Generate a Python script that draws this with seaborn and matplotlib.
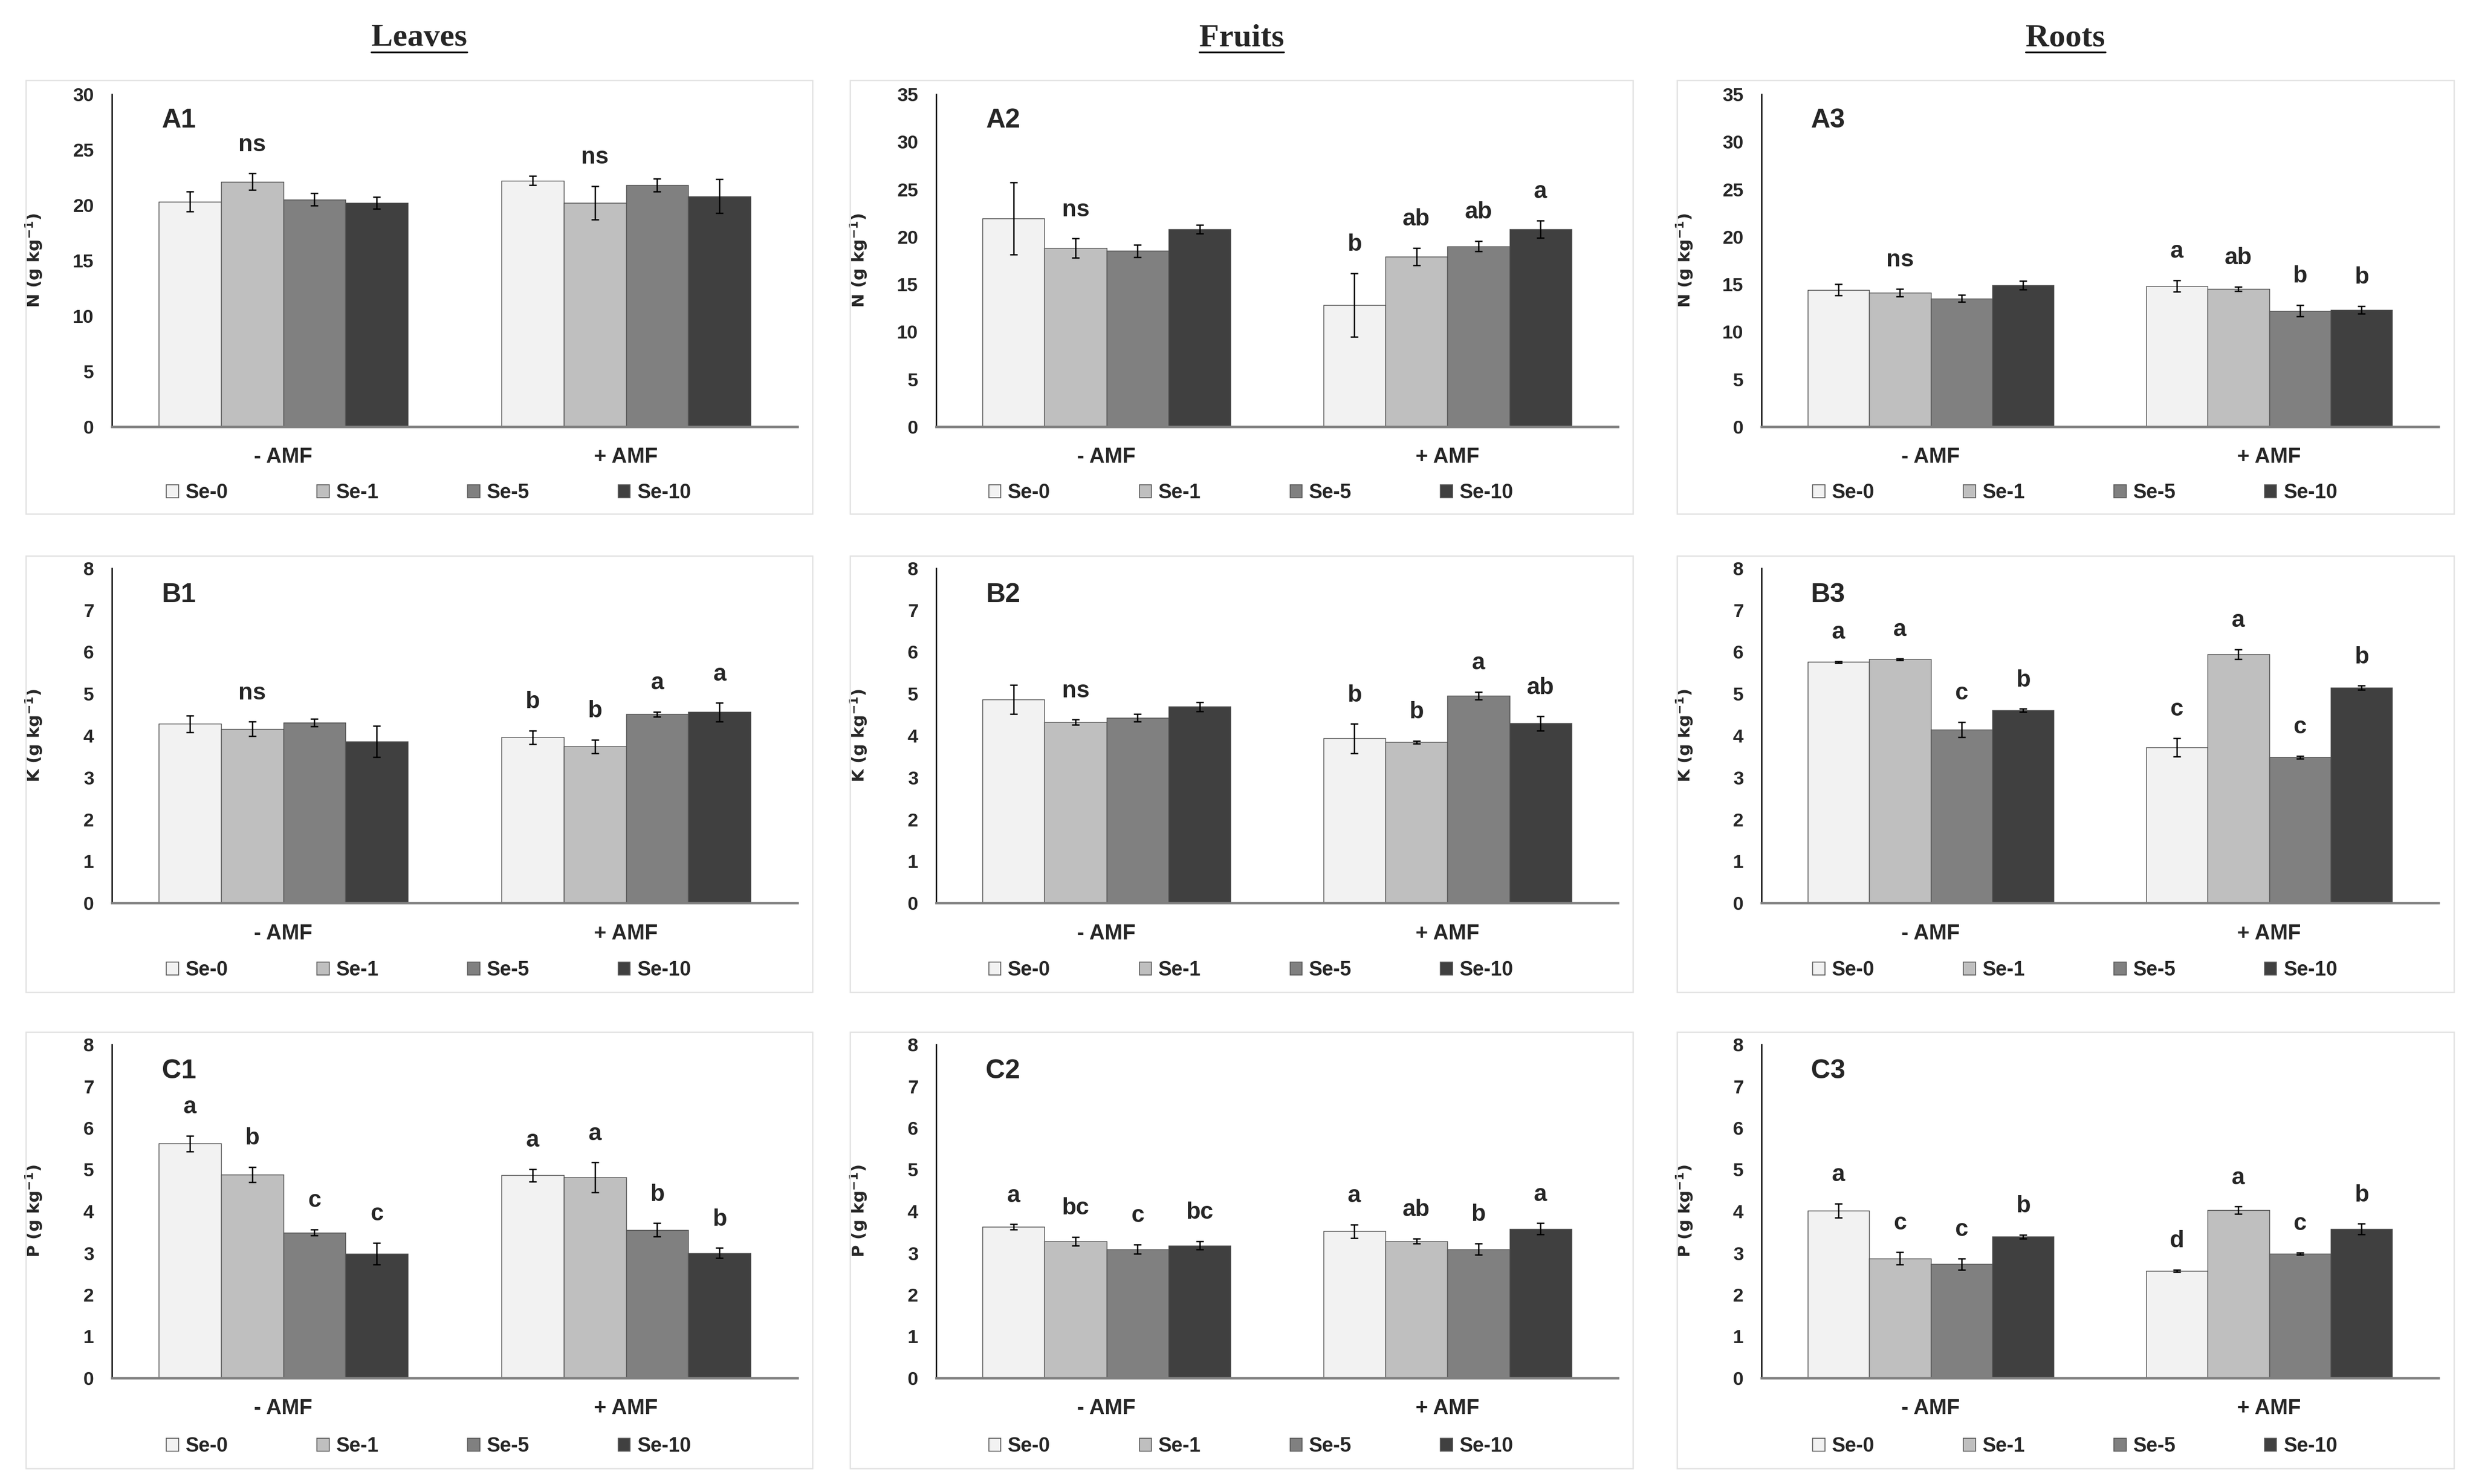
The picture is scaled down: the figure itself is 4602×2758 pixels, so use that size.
import numpy as np
import pandas as pd
import matplotlib
matplotlib.use("Agg")
import matplotlib.pyplot as plt
import seaborn as sns
from matplotlib.patches import Rectangle, Patch
from matplotlib.lines import Line2D

amf = ["- AMF", "+ AMF"]
se_levels = ["Se-0", "Se-1", "Se-5", "Se-10"]
se_colors = ["#f2f2f2", "#bfbfbf", "#808080", "#404040"]
organs = ["Leaves", "Fruits", "Roots"]

# values per group: [-AMF (Se-0, Se-1, Se-5, Se-10)], [+AMF (...)]
n_leaves = [[20.3, 22.1, 20.5, 20.2], [22.2, 20.2, 21.8, 20.8]]
n_leaves_err = [[0.9, 0.75, 0.55, 0.55], [0.4, 1.5, 0.6, 1.55]]
n_leaves_lab = [["", "ns", "", ""], ["", "ns", "", ""]]

n_fruits = [[21.9, 18.8, 18.5, 20.8], [12.8, 17.9, 19.0, 20.8]]
n_fruits_err = [[3.8, 1.0, 0.65, 0.45], [3.35, 0.9, 0.55, 0.9]]
n_fruits_lab = [["", "ns", "", ""], ["b", "ab", "ab", "a"]]

n_roots = [[14.4, 14.1, 13.5, 14.9], [14.8, 14.5, 12.2, 12.3]]
n_roots_err = [[0.6, 0.4, 0.35, 0.45], [0.6, 0.25, 0.6, 0.4]]
n_roots_lab = [["", "ns", "", ""], ["a", "ab", "b", "b"]]

k_leaves = [[4.28, 4.16, 4.31, 3.86], [3.96, 3.74, 4.51, 4.56]]
k_leaves_err = [[0.2, 0.17, 0.09, 0.37], [0.16, 0.16, 0.06, 0.22]]
k_leaves_lab = [["", "ns", "", ""], ["b", "b", "a", "a"]]

k_fruits = [[4.86, 4.32, 4.43, 4.69], [3.93, 3.84, 4.95, 4.29]]
k_fruits_err = [[0.35, 0.06, 0.09, 0.11], [0.35, 0.03, 0.09, 0.17]]
k_fruits_lab = [["", "ns", "", ""], ["b", "b", "a", "ab"]]

k_roots = [[5.76, 5.82, 4.14, 4.6], [3.72, 5.94, 3.48, 5.14]]
k_roots_err = [[0.02, 0.02, 0.18, 0.04], [0.22, 0.12, 0.03, 0.05]]
k_roots_lab = [["a", "a", "c", "b"], ["c", "a", "c", "b"]]

p_leaves = [[5.62, 4.88, 3.49, 2.98], [4.86, 4.81, 3.55, 3.0]]
p_leaves_err = [[0.19, 0.18, 0.07, 0.26], [0.15, 0.36, 0.16, 0.12]]
p_leaves_lab = [["a", "b", "c", "c"], ["a", "a", "b", "b"]]

p_fruits = [[3.62, 3.28, 3.09, 3.18], [3.52, 3.28, 3.09, 3.58]]
p_fruits_err = [[0.065, 0.1, 0.11, 0.1], [0.16, 0.06, 0.14, 0.13]]
p_fruits_lab = [["a", "bc", "c", "bc"], ["a", "ab", "b", "a"]]

p_roots = [[4.01, 2.87, 2.73, 3.39], [2.57, 4.02, 2.98, 3.57]]
p_roots_err = [[0.17, 0.15, 0.14, 0.045], [0.03, 0.09, 0.03, 0.13]]
p_roots_lab = [["a", "c", "c", "b"], ["d", "a", "c", "b"]]

panels = [
    [("A1", "N", 30, 5, n_leaves, n_leaves_err, n_leaves_lab),
     ("A2", "N", 35, 5, n_fruits, n_fruits_err, n_fruits_lab),
     ("A3", "N", 35, 5, n_roots, n_roots_err, n_roots_lab)],
    [("B1", "K", 8, 1, k_leaves, k_leaves_err, k_leaves_lab),
     ("B2", "K", 8, 1, k_fruits, k_fruits_err, k_fruits_lab),
     ("B3", "K", 8, 1, k_roots, k_roots_err, k_roots_lab)],
    [("C1", "P", 8, 1, p_leaves, p_leaves_err, p_leaves_lab),
     ("C2", "P", 8, 1, p_fruits, p_fruits_err, p_fruits_lab),
     ("C3", "P", 8, 1, p_roots, p_roots_err, p_roots_lab)],
]

W, H = 4602, 2758
sns.set_style("white")
plt.rcParams["font.family"] = ["Liberation Sans Narrow", "Liberation Sans", "DejaVu Sans"]
plt.rcParams["font.weight"] = "bold"
plt.rcParams["mathtext.default"] = "bf"

fig = plt.figure(figsize=(W / 300, H / 300), dpi=300)

# layout in pixels of the target picture
col_axis = [(208, 1482), (1740, 3007), (3274, 4532)]
col_box = [(48, 1510), (1580, 3035), (3117, 4561)]
row_axis = [(175, 793), (1056, 1678), (1941, 2561)]
row_box = [(149, 955), (1033, 1844), (1918, 2729)]
row_legend = [916, 1803, 2688]


def fx(x):
    return x / W


def fy(y):
    return 1 - y / H


handles = [Patch(facecolor=c, edgecolor="#595959", linewidth=0.4) for c in se_colors]

for r, row in enumerate(panels):
    for c, (tag, elem, ymax, step, vals, errs, labs) in enumerate(row):
        x0, x1 = col_axis[c]
        y0, y1 = row_axis[r]
        ax = fig.add_axes([fx(x0), fy(y1), fx(x1) - fx(x0), fy(y0) - fy(y1)])

        df = pd.DataFrame({
            "amf": np.repeat(amf, len(se_levels)),
            "se": se_levels * len(amf),
            "value": np.ravel(vals),
        })
        sns.barplot(data=df, x="amf", y="value", hue="se", order=amf,
                    hue_order=se_levels, palette=se_colors, width=0.728,
                    errorbar=None, edgecolor="#505050", linewidth=0.35,
                    legend=False, ax=ax)

        bar_groups = list(ax.containers)
        for i, cont in enumerate(bar_groups):
            for bar in cont:
                cx = bar.get_x() + bar.get_width() / 2
                j = int(round(cx))
                v, e = vals[j][i], errs[j][i]
                ax.errorbar(cx, v, yerr=e, fmt="none", ecolor="black",
                            elinewidth=0.6, capsize=1.6, capthick=0.6, zorder=5)
                if labs[j][i]:
                    ax.annotate(labs[j][i], (cx, v + e), xytext=(0, 10),
                                textcoords="offset points", ha="center",
                                va="baseline", fontsize=10.5, fontweight="bold")

        ax.set_ylim(0, ymax)
        ax.set_yticks(np.arange(0, ymax + step, step))
        ax.set_xlim(-0.5, 1.5)
        ax.set_xlabel("")
        ax.set_ylabel(f"{elem} (g kg$^{{-1}}$)", family="DejaVu Sans",
                      fontsize=7.5, fontweight="bold")
        ax.yaxis.set_label_coords(-0.098, 0.5)
        ax.tick_params(axis="y", length=0, pad=8, labelsize=8.5)
        ax.tick_params(axis="x", length=0, pad=9, labelsize=9.5)
        for lbl in ax.get_xticklabels() + ax.get_yticklabels():
            lbl.set_fontweight("bold")
        sns.despine(ax=ax)
        ax.spines["left"].set_color("black")
        ax.spines["left"].set_linewidth(0.6)
        ax.spines["bottom"].set_color("#7f7f7f")
        ax.spines["bottom"].set_linewidth(1.1)
        ax.text(0.073, 0.92, tag, transform=ax.transAxes, ha="left",
                va="center", fontsize=12, fontweight="bold")

        bx0, bx1 = col_box[c]
        by0, by1 = row_box[r]
        fig.add_artist(Rectangle((fx(bx0), fy(by1)), fx(bx1) - fx(bx0),
                                 fy(by0) - fy(by1), transform=fig.transFigure,
                                 fill=False, edgecolor="#e2e2e2", linewidth=0.6))
        fig.legend(handles, se_levels, loc="center",
                   bbox_to_anchor=(fx((bx0 + bx1) / 2 + 18), fy(row_legend[r])),
                   ncol=4, frameon=False, handlelength=0.6, handleheight=0.6,
                   handletextpad=0.35, columnspacing=4.4,
                   prop={"size": 9, "weight": "bold"})

# column titles, underlined
titles = []
for c, name in enumerate(organs):
    bx0, bx1 = col_box[c]
    t = fig.text(fx((bx0 + bx1) / 2), fy(71), name, ha="center", va="center",
                 family=["Liberation Serif", "DejaVu Serif"], fontsize=14.5,
                 fontweight="bold")
    titles.append(t)

fig.canvas.draw()
renderer = fig.canvas.get_renderer()
for t in titles:
    bb = t.get_window_extent(renderer).transformed(fig.transFigure.inverted())
    fig.add_artist(Line2D([bb.x0, bb.x1], [fy(97), fy(97)], color="black",
                          linewidth=0.8, transform=fig.transFigure))

fig.savefig("out.png", dpi=300, facecolor="white")
